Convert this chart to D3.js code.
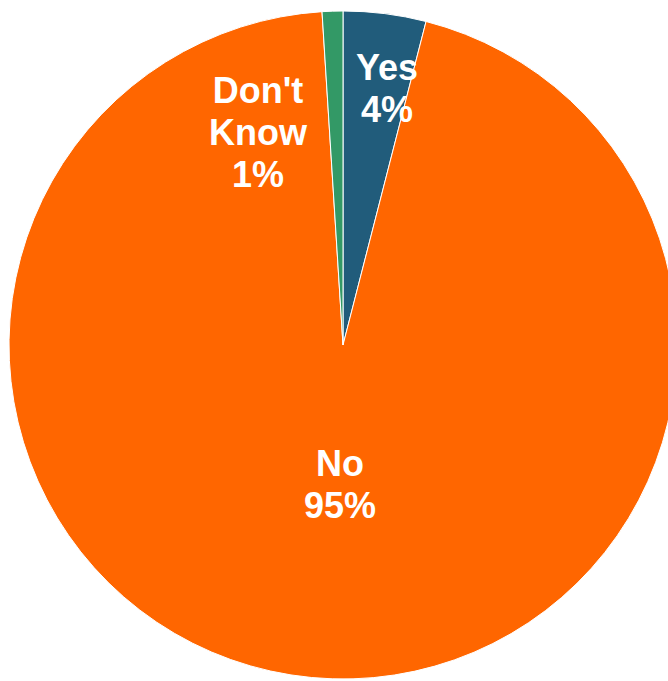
<!DOCTYPE html>
<html>
<head>
<meta charset="utf-8">
<script src="https://cdn.jsdelivr.net/npm/d3@7"></script>
<style>
  html, body { margin: 0; padding: 0; background: #ffffff; }
  svg { display: block; }
</style>
</head>
<body>
<svg id="chart" width="668" height="681"></svg>
<script>
// Survey answers and their shares (%)
const categories = ["Yes", "No", "Don't Know"];
const shares = [4, 95, 1];
const colors = ["#215C7B", "#FF6600", "#339966"];

// Label placement: first-baseline offset from the pie centre, per slice
const labelOffsets = [[44, -265], [-3, 131], [-85, -242]];
const lineGap = 42;

const width = 668, height = 681;
const cx = 343, cy = 345, radius = 334;

const svg = d3.select("#chart");
const g = svg.append("g").attr("transform", `translate(${cx},${cy})`);

const pie = d3.pie().sort(null).value(d => d.value).startAngle(0).endAngle(2 * Math.PI);
const arc = d3.arc().innerRadius(0).outerRadius(radius);

const data = categories.map((c, i) => ({ name: c, value: shares[i], color: colors[i] }));
const arcs = pie(data);

g.selectAll("path.slice")
  .data(arcs)
  .join("path")
  .attr("class", "slice")
  .attr("d", arc)
  .attr("fill", d => d.data.color)
  .attr("stroke", "#ffffff")
  .attr("stroke-width", 1);

const labels = g.selectAll("text.label")
  .data(arcs)
  .join("text")
  .attr("class", "label")
  .attr("text-anchor", "middle")
  .attr("fill", "#ffffff")
  .attr("font-family", "'Liberation Sans', Arial, sans-serif")
  .attr("font-weight", "bold")
  .attr("font-size", 36)
  .attr("transform", (d, i) => `translate(${labelOffsets[i][0]},${labelOffsets[i][1]})`);

labels.each(function (d) {
  const lines = d.data.name === "Don't Know" ? ["Don't", "Know"] : [d.data.name];
  lines.push(d.data.value + "%");
  d3.select(this).selectAll("tspan")
    .data(lines)
    .join("tspan")
    .attr("x", 0)
    .attr("y", (t, j) => j * lineGap)
    .text(t => t);
});
</script>
</body>
</html>
